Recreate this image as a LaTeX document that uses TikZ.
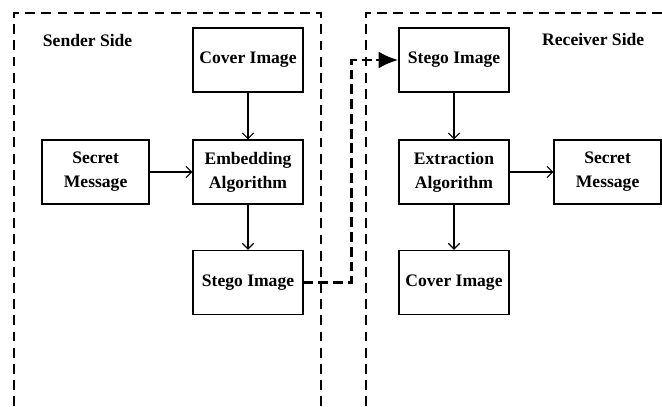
\documentclass[tikz,border=0pt]{standalone}
\usepackage{fontspec}
\setmainfont{Liberation Serif}
\usetikzlibrary{arrows.meta}

\begin{document}
\begin{tikzpicture}[
	blk/.style={draw, line width=0.9pt, minimum width=2.75cm, minimum height=1.6cm,
		align=center, inner sep=2pt, font=\fontsize{12.5}{17}\selectfont\bfseries},
	lbl/.style={font=\fontsize{12.5}{15}\selectfont\bfseries},
	side/.style={line width=0.8pt, dash pattern=on 7pt off 4.5pt},
	flow/.style={line width=0.8pt, -{Straight Barb[length=4pt,width=8pt]}},
	send/.style={line width=2pt, dash pattern=on 7pt off 3.5pt, -{Latex[length=14pt,width=12pt]}}]
	\useasboundingbox (0,0) rectangle (16.55,-10.15);

	% Sides
	\draw[side] (0.35,-10.15) -- (0.35,-0.325) -- (8.025,-0.325) -- (8.025,-10.15);
	\draw[side] (9.15,-10.15) -- (9.15,-0.325) -- (16.55,-0.325);
	\node[lbl] (sender) at (2.19,-1.0) {Sender Side};
	\node[lbl] (receiver) at (14.83,-0.98) {Receiver Side};

	% Sender
	\node[blk] (cover1) at (6.2,-1.5) {Cover Image};
	\node[blk] (embed) at (6.2,-4.3) {Embedding\\Algorithm};
	\node[blk, minimum width=2.675cm] (secret1) at (2.39,-4.3) {Secret\\Message};
	\node[blk] (stego1) at (6.2,-7.06) {Stego Image};

	% Receiver
	\node[blk] (stego2) at (11.35,-1.5) {Stego Image};
	\node[blk] (extract) at (11.35,-4.3) {Extraction\\Algorithm};
	\node[blk, minimum width=2.675cm] (secret2) at (15.19,-4.3) {Secret\\Message};
	\node[blk] (cover2) at (11.35,-7.06) {Cover Image};

	% Arrows
	\draw[flow] (cover1) -- (embed);
	\draw[flow] (secret1) -- (embed);
	\draw[flow] (embed) -- (stego1);
	\draw[flow] (stego2) -- (extract);
	\draw[flow] (extract) -- (secret2);
	\draw[flow] (extract) -- (cover2);
	\draw[send] (stego1.east) -- ++(1.2,0) |- (stego2.west);
\end{tikzpicture}
\end{document}
